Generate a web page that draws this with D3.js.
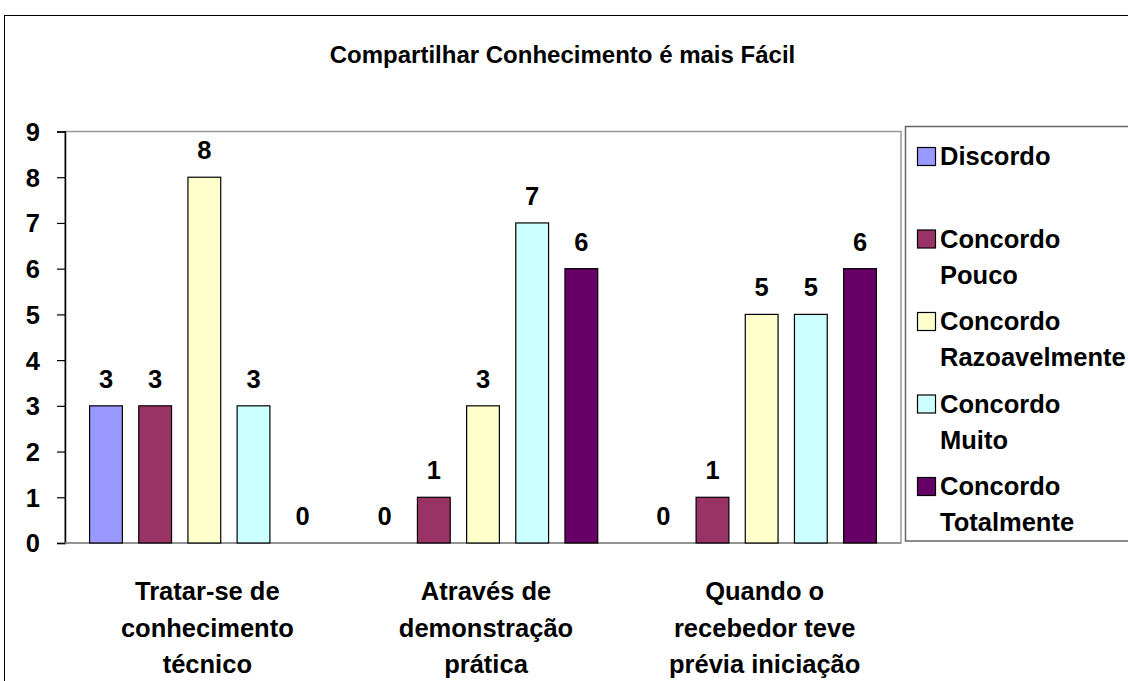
<!DOCTYPE html>
<html>
<head>
<meta charset="utf-8">
<script src="https://cdn.jsdelivr.net/npm/d3@7"></script>
<style>
  html, body { margin: 0; padding: 0; background: #fff; }
  svg text { font-family: "Liberation Sans", Arial, sans-serif; font-weight: bold; fill: #000; }
</style>
</head>
<body>
<svg id="chart" width="1128" height="681"></svg>
<script>
// Survey answers per statement, one array per response level
const categories = [
  ["Tratar-se de", "conhecimento", "técnico"],
  ["Através de", "demonstração", "prática"],
  ["Quando o", "recebedor teve", "prévia iniciação"]
];
const seriesNames = [
  ["Discordo"],
  ["Concordo", "Pouco"],
  ["Concordo", "Razoavelmente"],
  ["Concordo", "Muito"],
  ["Concordo", "Totalmente"]
];
const discordo = [3, 0, 0];
const concordoPouco = [3, 1, 1];
const concordoRazoavelmente = [8, 3, 5];
const concordoMuito = [3, 7, 5];
const concordoTotalmente = [0, 6, 6];
const yTicks = [0, 1, 2, 3, 4, 5, 6, 7, 8, 9];
const colors = ["#9999FF", "#993366", "#FFFFCC", "#CCFFFF", "#660066"];
const title = "Compartilhar Conhecimento é mais Fácil";

const seriesValues = [discordo, concordoPouco, concordoRazoavelmente, concordoMuito, concordoTotalmente];
const labelSize = 25.5;

const svg = d3.select("#chart");

// Chart area frame
svg.append("rect")
  .attr("x", 4.5).attr("y", 15.5)
  .attr("width", 1200).attr("height", 800)
  .attr("fill", "#fff").attr("stroke", "#000").attr("stroke-width", 1);

// Title
svg.append("text")
  .attr("x", 562.5).attr("y", 62.5)
  .attr("text-anchor", "middle")
  .attr("font-size", 24)
  .text(title);

// Plot area
const plot = { left: 65, top: 131.5, right: 901, bottom: 543 };

svg.append("rect")
  .attr("x", plot.left).attr("y", plot.top)
  .attr("width", plot.right - plot.left).attr("height", plot.bottom - plot.top)
  .attr("fill", "none").attr("stroke", "#999").attr("stroke-width", 1.5);

const y = d3.scaleLinear().domain([0, 9]).range([plot.bottom, plot.top]);

const x0 = d3.scaleBand()
  .domain(d3.range(categories.length))
  .range([plot.left, plot.right])
  .padding(0);

// Bars: width u, gap between bars 0.5u, gap between groups 1.5u
const groupW = x0.bandwidth();
const u = groupW / 8.5;
const x1 = d3.scaleBand()
  .domain(d3.range(seriesNames.length))
  .range([0.75 * u, groupW - 0.75 * u])
  .paddingInner(1 / 3)
  .paddingOuter(0);

// Y axis
const yAxis = d3.axisLeft(y)
  .tickValues(yTicks)
  .tickSize(8)
  .tickPadding(17)
  .tickFormat(d3.format("d"));

const gy = svg.append("g")
  .attr("transform", `translate(${plot.left},0)`)
  .call(yAxis);
gy.select(".domain").attr("stroke", "#000").attr("stroke-width", 1.5);
gy.selectAll(".tick line").attr("stroke", "#000").attr("stroke-width", 1.2);
gy.selectAll(".tick text")
  .attr("font-size", labelSize)
  .attr("dy", "0.35em")
  .attr("fill", "#000");

// X baseline
svg.append("line")
  .attr("x1", plot.left).attr("x2", plot.right)
  .attr("y1", y(0)).attr("y2", y(0))
  .attr("stroke", "#888").attr("stroke-width", 1.5);

// Bars and value labels
const groups = svg.append("g").selectAll("g")
  .data(categories.map((c, i) => i))
  .join("g")
  .attr("transform", i => `translate(${x0(i)},0)`);

groups.each(function (ci) {
  const g = d3.select(this);
  seriesValues.forEach((vals, si) => {
    const v = vals[ci];
    if (v > 0) {
      g.append("rect")
        .attr("x", x1(si))
        .attr("y", y(v))
        .attr("width", x1.bandwidth())
        .attr("height", y(0) - y(v))
        .attr("fill", colors[si])
        .attr("stroke", "#000")
        .attr("stroke-width", 1.2);
    }
    g.append("text")
      .attr("x", x1(si) + x1.bandwidth() / 2)
      .attr("y", y(v) - 18)
      .attr("text-anchor", "middle")
      .attr("font-size", labelSize)
      .text(v);
  });
});

// Category labels
categories.forEach((lines, ci) => {
  const t = svg.append("text")
    .attr("text-anchor", "middle")
    .attr("font-size", labelSize);
  lines.forEach((line, li) => {
    t.append("tspan")
      .attr("x", x0(ci) + groupW / 2 + 3)
      .attr("y", 600 + li * 36.5)
      .text(line);
  });
});

// Legend
svg.append("rect")
  .attr("x", 905.5).attr("y", 126.5)
  .attr("width", 300).attr("height", 414.5)
  .attr("fill", "#fff").attr("stroke", "#666").attr("stroke-width", 1.5);

const legendRow = d3.scaleLinear().domain([0, 4]).range([165, 495]);

seriesNames.forEach((lines, si) => {
  const base = legendRow(si);
  svg.append("rect")
    .attr("x", 917.5).attr("y", base - 17.5)
    .attr("width", 18).attr("height", 18)
    .attr("fill", colors[si])
    .attr("stroke", "#000").attr("stroke-width", 1.2);
  const t = svg.append("text").attr("font-size", labelSize);
  lines.forEach((line, li) => {
    t.append("tspan")
      .attr("x", 940)
      .attr("y", base + li * 36)
      .text(line);
  });
});
</script>
</body>
</html>
